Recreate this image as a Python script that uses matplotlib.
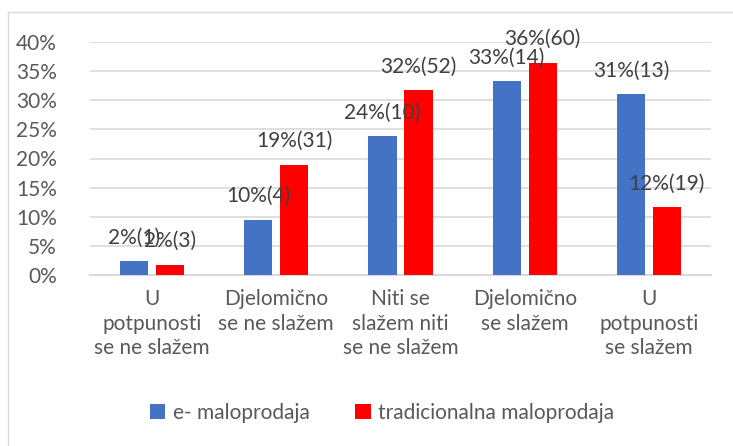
import matplotlib
matplotlib.use("Agg")
import matplotlib.pyplot as plt
from matplotlib.patches import Rectangle
import numpy as np

categories = ["U\npotpunosti\nse ne slažem", "Djelomično\nse ne slažem", "Niti se\nslažem niti\nse ne slažem",
              "Djelomično\nse slažem", "U\npotpunosti\nse slažem"]
series_names = ["e- maloprodaja", "tradicionalna maloprodaja"]
e_pct = [2.4, 9.5, 23.8, 33.3, 31.0]
t_pct = [1.8, 18.9, 31.7, 36.4, 11.6]
e_counts = [1, 4, 10, 14, 13]
t_counts = [3, 31, 52, 60, 19]
e_lbl_pct = [2, 10, 24, 33, 31]
t_lbl_pct = [2, 19, 32, 36, 12]
yticks = [0, 5, 10, 15, 20, 25, 30, 35, 40]

plt.rcParams['font.family'] = ['Lato', 'DejaVu Sans']
txt = '#595959'
fs = 15
fig = plt.figure(figsize=(7.33, 4.46), dpi=100)
ax = fig.add_axes([90/733, 1-275/446, (711-90)/733, (275-42)/446])

x = np.arange(len(categories))
w = 0.226
off = 0.145
b1 = ax.bar(x - off, e_pct, w, color='#4472C4', label=series_names[0], zorder=3)
b2 = ax.bar(x + off, t_pct, w, color='#FF0000', label=series_names[1], zorder=3)

for xs, vals, lp, cnts in [(x - off, e_pct, e_lbl_pct, e_counts), (x + off, t_pct, t_lbl_pct, t_counts)]:
    for xi, v, p, c in zip(xs, vals, lp, cnts):
        ax.annotate(f"{p}%({c})", (xi, v), xytext=(0, 17), textcoords='offset points',
                    ha='center', va='center', fontsize=fs, color='#404040', zorder=4)

ax.set_xlim(-0.5, 4.5)
ax.set_ylim(0, 40)
ax.set_yticks(yticks)
ax.set_yticklabels([f"{t}%" for t in yticks], fontsize=fs, color=txt)
ax.set_xticks(x)
ax.set_xticklabels(categories, fontsize=fs, color=txt, linespacing=1.3)
ax.tick_params(axis='x', length=0, pad=10)
ax.tick_params(axis='y', length=0, pad=24)
ax.grid(axis='y', color='#d9d9d9', linewidth=1.2, zorder=0)
for s in ['top', 'right', 'left']:
    ax.spines[s].set_visible(False)
ax.spines['bottom'].set_color('#d9d9d9')
ax.spines['bottom'].set_linewidth(1.5)

leg = fig.legend(handles=[b1, b2], labels=series_names, loc='center', bbox_to_anchor=(382/733, 1-413/446),
                 ncol=2, frameon=False, fontsize=fs, handlelength=0.75, handleheight=0.75,
                 columnspacing=2.2, handletextpad=0.35)
for t in leg.get_texts():
    t.set_color(txt)

fig.patches.append(Rectangle((8/733, -0.1), 1.2, 1 - 12/446 + 0.1, transform=fig.transFigure,
                             fill=False, edgecolor='#d9d9d9', linewidth=1))
fig.savefig("out.png", dpi=100)
